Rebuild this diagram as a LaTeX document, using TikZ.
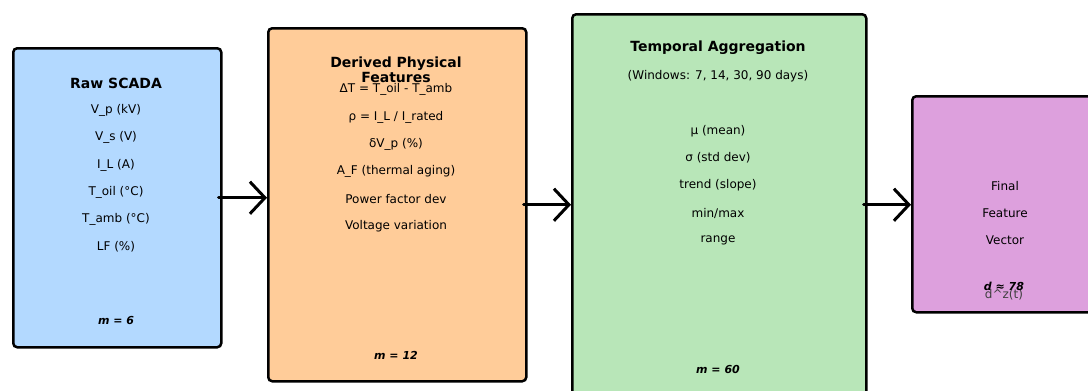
\documentclass[tikz,border=0pt]{standalone}
\usepackage{fontspec}
\setmainfont{DejaVu Sans}
\usetikzlibrary{arrows.meta, positioning}
\definecolor{rawblue}{RGB}{179,217,255}
\definecolor{derivedorange}{RGB}{255,204,153}
\definecolor{aggrgreen}{RGB}{184,230,184}
\definecolor{finalplum}{RGB}{221,160,221}

\begin{document}
\begin{tikzpicture}[x=1pt, y=-1pt,
    stagebox/.style={draw, line width=2.5pt, rounded corners=4pt, anchor=north west, inner sep=0pt},
    title/.style={font=\bfseries\fontsize{14}{15}\selectfont, align=center},
    item/.style={font=\fontsize{12}{14}\selectfont},
    dimlabel/.style={font=\bfseries\itshape\fontsize{11}{13}\selectfont},
    line/.style={-{Straight Barb[length=15pt, width=32pt]}, line width=3pt, line cap=round, shorten <=-4pt}]
\useasboundingbox (0,0) rectangle (1088,391);
\clip (0,0) rectangle (1088,391);
% stage boxes
\node[stagebox, fill=rawblue, minimum width=208pt, minimum height=299pt] (raw) at (12,47) {};
\node[stagebox, fill=derivedorange, minimum width=258pt, minimum height=353pt] (derived) at (267,27) {};
\node[stagebox, fill=aggrgreen, minimum width=294pt, minimum height=381pt] (aggr) at (571,13) {};
\node[stagebox, fill=finalplum, minimum width=188pt, minimum height=216pt] (final) at (911,95) {};
% raw SCADA
\node[title] (rawtitle) at (116,83) {Raw SCADA};
\node[item] (vp) at (116,110) {V\_p (kV)};
\node[item] (vs) at (116,137) {V\_s (V)};
\node[item] (il) at (116,165) {I\_L (A)};
\node[item] (toil) at (116,192) {T\_oil (°C)};
\node[item] (tamb) at (116,219) {T\_amb (°C)};
\node[item] (lf) at (116,247) {LF (\%)};
\node[dimlabel] (rawm) at (116,321) {m = 6};
% derived features
\node[title] (dertitle) at (396,69.5) {Derived Physical\\Features};
\node[item] (dt) at (396,89) {ΔT = T\_oil - T\_amb};
\node[item] (rho) at (396,117) {ρ = I\_L / I\_rated};
\node[item] (dvp) at (396,144) {δV\_p (\%)};
\node[item] (af) at (396,171) {A\_F (thermal aging)};
\node[item] (pf) at (396,199) {Power factor dev};
\node[item] (vv) at (396,226) {Voltage variation};
\node[dimlabel] (derm) at (396,355) {m = 12};
% temporal aggregation
\node[title] (aggrtitle) at (718,48) {Temporal Aggregation};
\node[item] (windows) at (718,76) {(Windows: 7, 14, 30, 90 days)};
\node[item] (mu) at (718,131) {μ (mean)};
\node[item] (sigma) at (718,158) {σ (std dev)};
\node[item] (trend) at (718,185) {trend (slope)};
\node[item] (minmax) at (718,213) {min/max};
\node[item] (range) at (718,240) {range};
\node[dimlabel] (aggrm) at (718,369) {m = 60};
% final vector
\node[item] (fin1) at (1005,186) {Final};
\node[item] (fin2) at (1005,213) {Feature};
\node[item] (fin3) at (1005,240) {Vector};
\node[item, text=black!75] (dz) at (1004,295) {d\textasciicircum z(t)};
\node[dimlabel] (finm) at (1004,286) {d ≈ 78};
% flow
\draw[line] (raw.east) -- (raw.east -| derived.west);
\draw[line] (derived.east) -- (derived.east -| aggr.west);
\draw[line] (aggr.east |- derived.east) -- (derived.east -| final.west);
\end{tikzpicture}
\end{document}
